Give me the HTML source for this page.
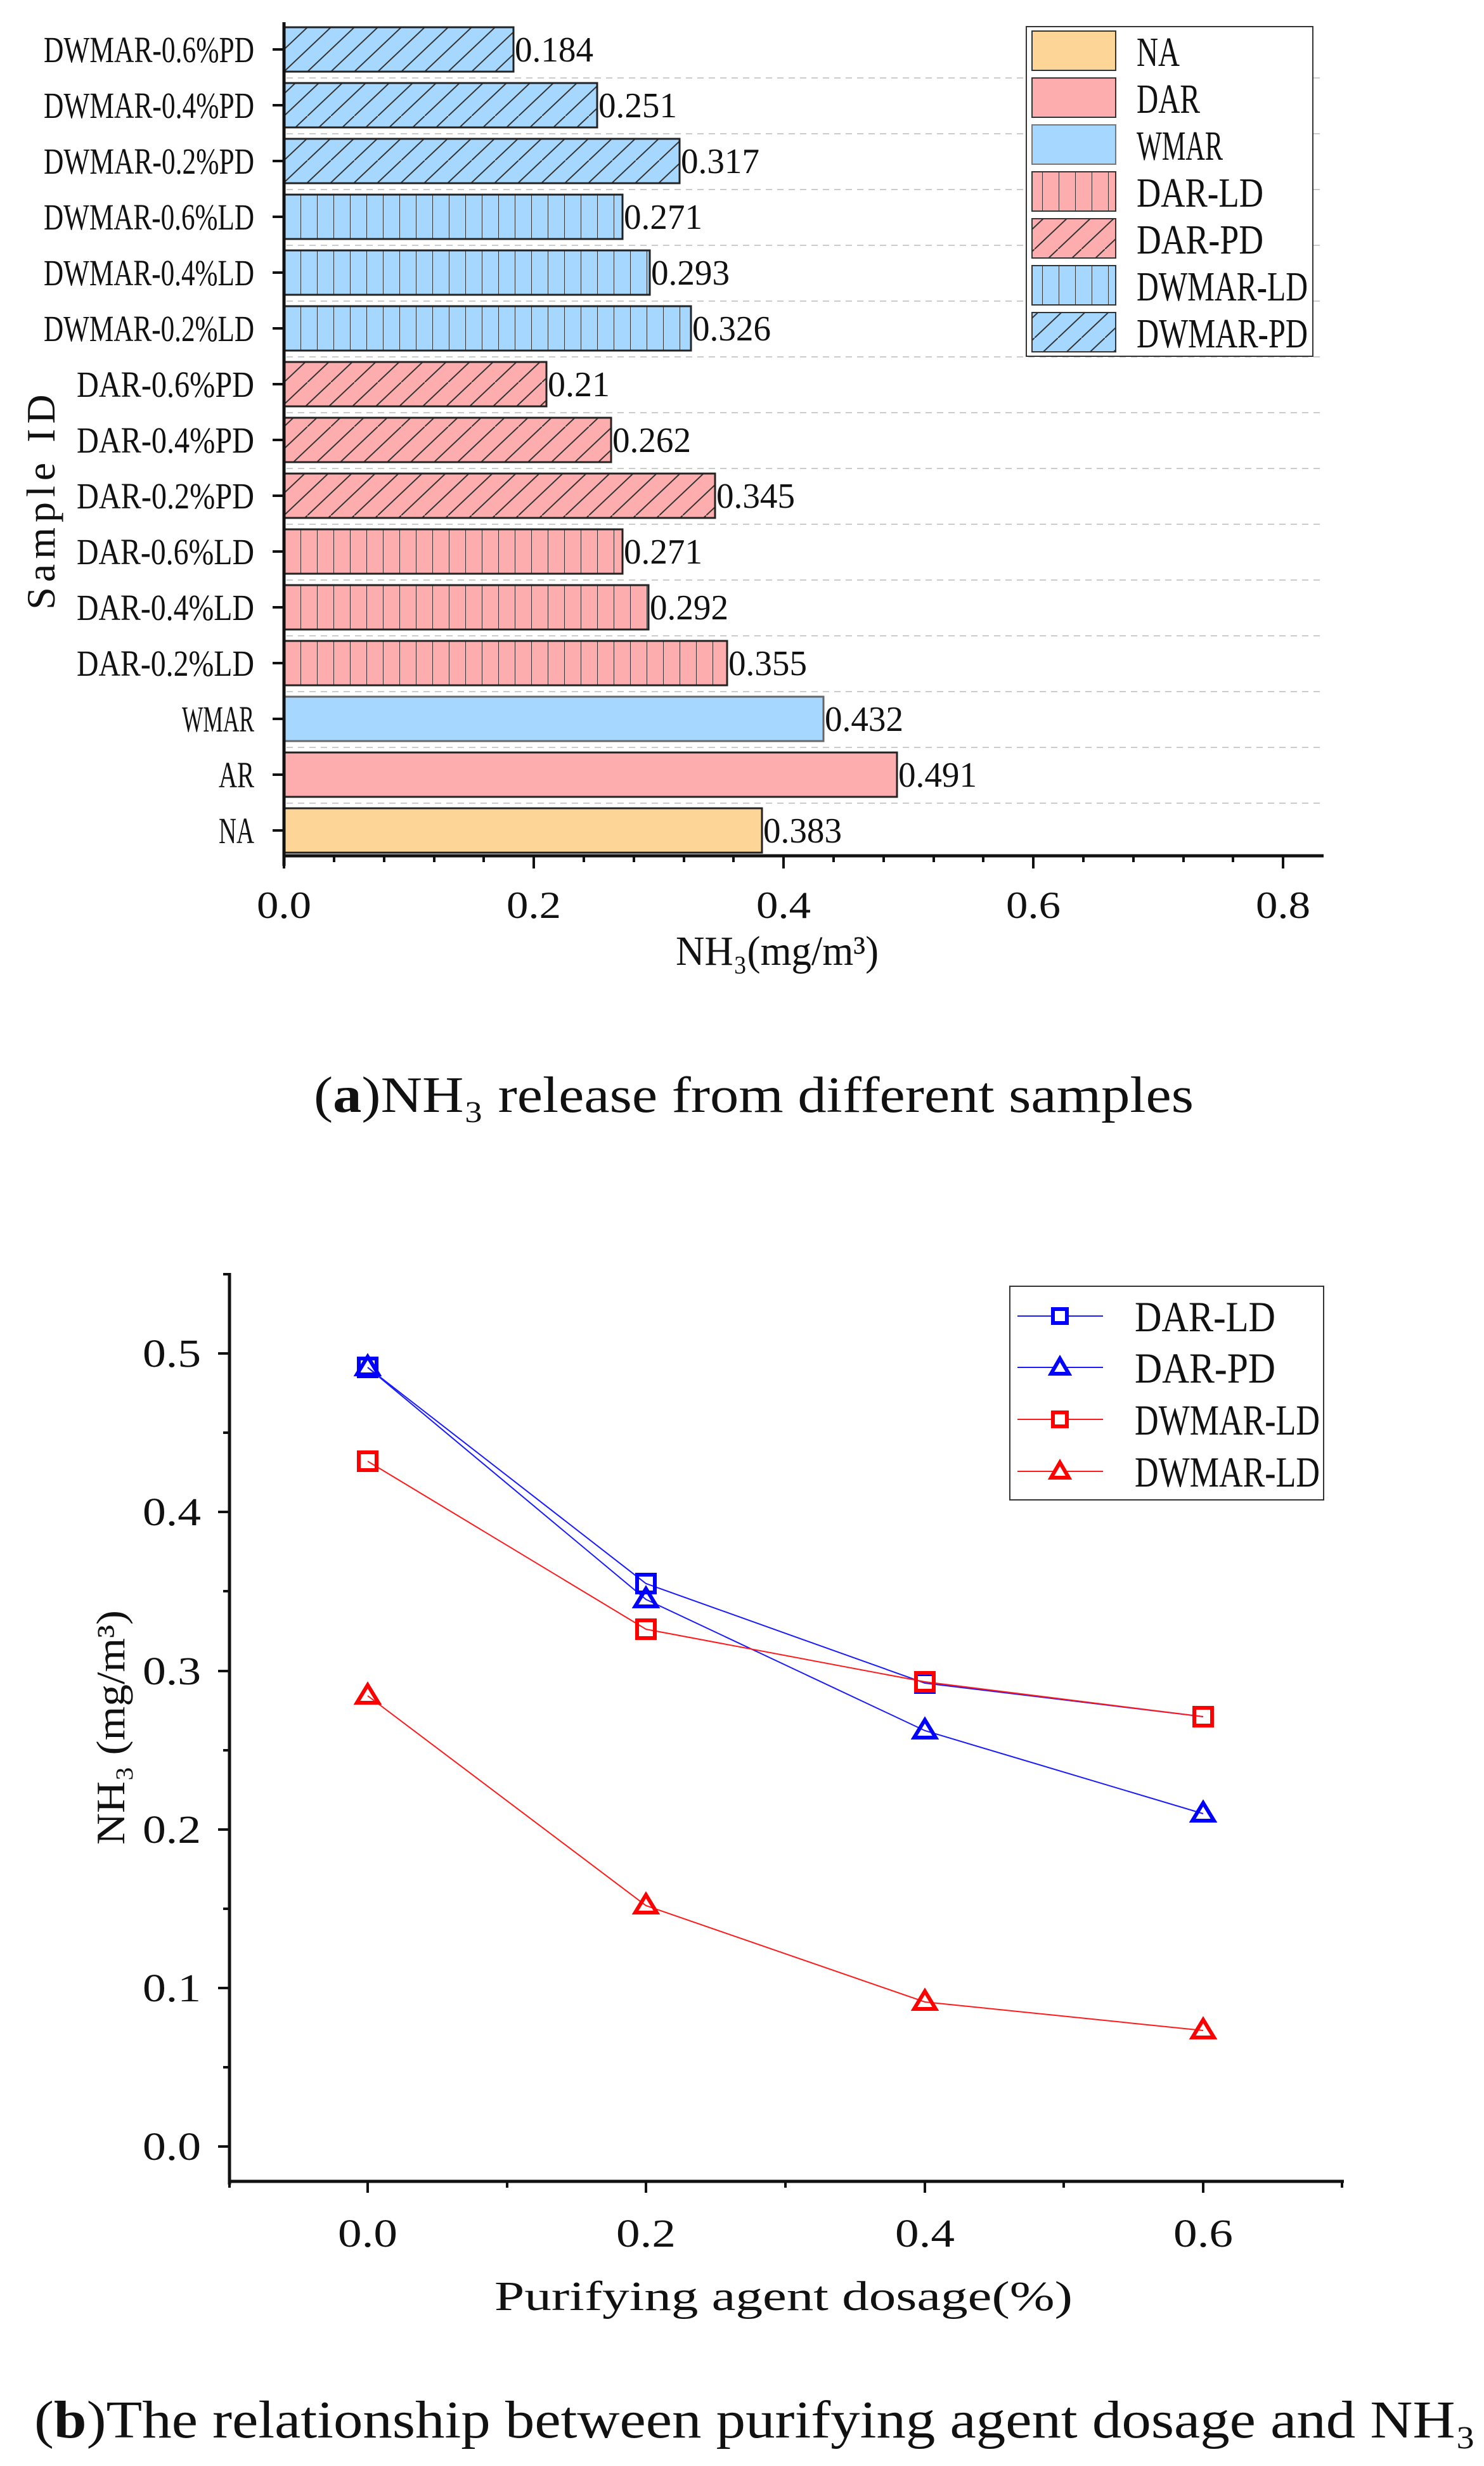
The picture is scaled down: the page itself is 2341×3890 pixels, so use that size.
<!DOCTYPE html>
<html><head><meta charset="utf-8"><style>html,body{margin:0;padding:0;background:#fff}svg{display:block}</style></head>
<body>
<svg width="2341" height="3890" viewBox="0 0 2341 3890" xmlns="http://www.w3.org/2000/svg" font-family="'Liberation Serif','Noto Serif CJK SC',serif">
<defs>
<pattern id="vl" patternUnits="userSpaceOnUse" width="26" height="100" x="448"><line x1="0" y1="0" x2="0" y2="100" stroke="#333" stroke-width="2"/></pattern>
<pattern id="dg" patternUnits="userSpaceOnUse" width="37" height="70" x="448" y="43"><line x1="-37" y1="70" x2="37" y2="0" stroke="#333" stroke-width="2"/><line x1="0" y1="70" x2="74" y2="0" stroke="#333" stroke-width="2"/></pattern>
</defs>
<g stroke="#ccc" stroke-width="2" stroke-dasharray="10,8">
<line x1="452" x2="2086" y1="123" y2="123"/><line x1="452" x2="2086" y1="211" y2="211"/><line x1="452" x2="2086" y1="299" y2="299"/><line x1="452" x2="2086" y1="387" y2="387"/><line x1="452" x2="2086" y1="475" y2="475"/><line x1="452" x2="2086" y1="563" y2="563"/><line x1="452" x2="2086" y1="651" y2="651"/><line x1="452" x2="2086" y1="739" y2="739"/><line x1="452" x2="2086" y1="827" y2="827"/><line x1="452" x2="2086" y1="915" y2="915"/><line x1="452" x2="2086" y1="1003" y2="1003"/><line x1="452" x2="2086" y1="1091" y2="1091"/><line x1="452" x2="2086" y1="1179" y2="1179"/><line x1="452" x2="2086" y1="1267" y2="1267"/>
</g>
<g stroke="#222" stroke-width="3">
<rect x="448" y="1275" width="754" height="70" fill="#fdd596"/>
<rect x="448" y="1187" width="967" height="70" fill="#fdadad"/>
<rect x="448" y="1099" width="851" height="70" fill="#a6d8ff" stroke="#666"/>
<rect x="448" y="1011" width="699" height="70" fill="#fdadad"/><rect x="448" y="1011" width="699" height="70" fill="url(#vl)"/>
<rect x="448" y="923" width="575" height="70" fill="#fdadad"/><rect x="448" y="923" width="575" height="70" fill="url(#vl)"/>
<rect x="448" y="835" width="534" height="70" fill="#fdadad"/><rect x="448" y="835" width="534" height="70" fill="url(#vl)"/>
<rect x="448" y="747" width="680" height="70" fill="#fdadad"/><rect x="448" y="747" width="680" height="70" fill="url(#dg)"/>
<rect x="448" y="659" width="516" height="70" fill="#fdadad"/><rect x="448" y="659" width="516" height="70" fill="url(#dg)"/>
<rect x="448" y="571" width="414" height="70" fill="#fdadad"/><rect x="448" y="571" width="414" height="70" fill="url(#dg)"/>
<rect x="448" y="483" width="642" height="70" fill="#a6d8ff"/><rect x="448" y="483" width="642" height="70" fill="url(#vl)"/>
<rect x="448" y="395" width="577" height="70" fill="#a6d8ff"/><rect x="448" y="395" width="577" height="70" fill="url(#vl)"/>
<rect x="448" y="307" width="534" height="70" fill="#a6d8ff"/><rect x="448" y="307" width="534" height="70" fill="url(#vl)"/>
<rect x="448" y="219" width="624" height="70" fill="#a6d8ff"/><rect x="448" y="219" width="624" height="70" fill="url(#dg)"/>
<rect x="448" y="131" width="494" height="70" fill="#a6d8ff"/><rect x="448" y="131" width="494" height="70" fill="url(#dg)"/>
<rect x="448" y="43" width="362" height="70" fill="#a6d8ff"/><rect x="448" y="43" width="362" height="70" fill="url(#dg)"/>
</g>
<g font-size="56" fill="#111" lengthAdjust="spacingAndGlyphs">
<text x="1204" y="1329" textLength="124" lengthAdjust="spacingAndGlyphs">0.383</text>
<text x="1417" y="1241" textLength="124" lengthAdjust="spacingAndGlyphs">0.491</text>
<text x="1301" y="1153" textLength="124" lengthAdjust="spacingAndGlyphs">0.432</text>
<text x="1149" y="1065" textLength="124" lengthAdjust="spacingAndGlyphs">0.355</text>
<text x="1025" y="977" textLength="124" lengthAdjust="spacingAndGlyphs">0.292</text>
<text x="984" y="889" textLength="124" lengthAdjust="spacingAndGlyphs">0.271</text>
<text x="1130" y="801" textLength="124" lengthAdjust="spacingAndGlyphs">0.345</text>
<text x="966" y="713" textLength="124" lengthAdjust="spacingAndGlyphs">0.262</text>
<text x="864" y="625" textLength="98" lengthAdjust="spacingAndGlyphs">0.21</text>
<text x="1092" y="537" textLength="124" lengthAdjust="spacingAndGlyphs">0.326</text>
<text x="1027" y="449" textLength="124" lengthAdjust="spacingAndGlyphs">0.293</text>
<text x="984" y="361" textLength="124" lengthAdjust="spacingAndGlyphs">0.271</text>
<text x="1074" y="273" textLength="124" lengthAdjust="spacingAndGlyphs">0.317</text>
<text x="944" y="185" textLength="124" lengthAdjust="spacingAndGlyphs">0.251</text>
<text x="812" y="97" textLength="124" lengthAdjust="spacingAndGlyphs">0.184</text>
</g>
<g font-size="58" fill="#111" text-anchor="end">
<text x="401" y="1330" textLength="56" lengthAdjust="spacingAndGlyphs">NA</text><text x="401" y="1242" textLength="56" lengthAdjust="spacingAndGlyphs">AR</text><text x="401" y="1154" textLength="114" lengthAdjust="spacingAndGlyphs">WMAR</text>
<text x="401" y="1066" textLength="280" lengthAdjust="spacingAndGlyphs">DAR-0.2%LD</text>
<text x="401" y="978" textLength="280" lengthAdjust="spacingAndGlyphs">DAR-0.4%LD</text>
<text x="401" y="890" textLength="280" lengthAdjust="spacingAndGlyphs">DAR-0.6%LD</text>
<text x="401" y="802" textLength="280" lengthAdjust="spacingAndGlyphs">DAR-0.2%PD</text>
<text x="401" y="714" textLength="280" lengthAdjust="spacingAndGlyphs">DAR-0.4%PD</text>
<text x="401" y="626" textLength="280" lengthAdjust="spacingAndGlyphs">DAR-0.6%PD</text>
<text x="401" y="538" textLength="332" lengthAdjust="spacingAndGlyphs">DWMAR-0.2%LD</text>
<text x="401" y="450" textLength="332" lengthAdjust="spacingAndGlyphs">DWMAR-0.4%LD</text>
<text x="401" y="362" textLength="332" lengthAdjust="spacingAndGlyphs">DWMAR-0.6%LD</text>
<text x="401" y="274" textLength="332" lengthAdjust="spacingAndGlyphs">DWMAR-0.2%PD</text>
<text x="401" y="186" textLength="332" lengthAdjust="spacingAndGlyphs">DWMAR-0.4%PD</text>
<text x="401" y="98" textLength="332" lengthAdjust="spacingAndGlyphs">DWMAR-0.6%PD</text>
</g>
<g stroke="#111" stroke-width="5" fill="none">
<line x1="448" y1="35" x2="448" y2="1366"/>
<line x1="446" y1="1350" x2="2088" y2="1350"/>
</g>
<g stroke="#111" stroke-width="4">
<line x1="430" x2="448" y1="1310" y2="1310"/><line x1="430" x2="448" y1="1222" y2="1222"/><line x1="430" x2="448" y1="1134" y2="1134"/><line x1="430" x2="448" y1="1046" y2="1046"/><line x1="430" x2="448" y1="958" y2="958"/><line x1="430" x2="448" y1="870" y2="870"/><line x1="430" x2="448" y1="782" y2="782"/><line x1="430" x2="448" y1="694" y2="694"/><line x1="430" x2="448" y1="606" y2="606"/><line x1="430" x2="448" y1="518" y2="518"/><line x1="430" x2="448" y1="430" y2="430"/><line x1="430" x2="448" y1="342" y2="342"/><line x1="430" x2="448" y1="254" y2="254"/><line x1="430" x2="448" y1="166" y2="166"/><line x1="430" x2="448" y1="78" y2="78"/>
<line x1="448" x2="448" y1="1350" y2="1370"/><line x1="842" x2="842" y1="1350" y2="1370"/><line x1="1236" x2="1236" y1="1350" y2="1370"/><line x1="1630" x2="1630" y1="1350" y2="1370"/><line x1="2024" x2="2024" y1="1350" y2="1370"/>
<line x1="527" x2="527" y1="1350" y2="1360"/><line x1="606" x2="606" y1="1350" y2="1360"/><line x1="685" x2="685" y1="1350" y2="1360"/><line x1="763" x2="763" y1="1350" y2="1360"/><line x1="921" x2="921" y1="1350" y2="1360"/><line x1="1000" x2="1000" y1="1350" y2="1360"/><line x1="1079" x2="1079" y1="1350" y2="1360"/><line x1="1157" x2="1157" y1="1350" y2="1360"/><line x1="1315" x2="1315" y1="1350" y2="1360"/><line x1="1394" x2="1394" y1="1350" y2="1360"/><line x1="1473" x2="1473" y1="1350" y2="1360"/><line x1="1551" x2="1551" y1="1350" y2="1360"/><line x1="1709" x2="1709" y1="1350" y2="1360"/><line x1="1788" x2="1788" y1="1350" y2="1360"/><line x1="1867" x2="1867" y1="1350" y2="1360"/><line x1="1945" x2="1945" y1="1350" y2="1360"/>
</g>
<g font-size="60" fill="#111" text-anchor="middle">
<text x="448" y="1448" textLength="86" lengthAdjust="spacingAndGlyphs">0.0</text><text x="842" y="1448" textLength="86" lengthAdjust="spacingAndGlyphs">0.2</text><text x="1236" y="1448" textLength="86" lengthAdjust="spacingAndGlyphs">0.4</text><text x="1630" y="1448" textLength="86" lengthAdjust="spacingAndGlyphs">0.6</text><text x="2024" y="1448" textLength="86" lengthAdjust="spacingAndGlyphs">0.8</text>
<text x="1226" y="1522" font-size="66" textLength="320" lengthAdjust="spacingAndGlyphs">NH₃(mg/m³)</text>
<text transform="translate(86,788) rotate(-90)" font-size="64" letter-spacing="8">Sample ID</text>
</g>
<rect x="1619" y="42" width="452" height="520" fill="#fff" stroke="#333" stroke-width="2"/>
<g stroke="#333" stroke-width="2">
<rect x="1628" y="49" width="132" height="62" fill="#fdd596"/>
<rect x="1628" y="123" width="132" height="62" fill="#fdadad"/>
<rect x="1628" y="197" width="132" height="62" fill="#a6d8ff" stroke="#777"/>
<rect x="1628" y="271" width="132" height="62" fill="#fdadad"/><rect x="1628" y="271" width="132" height="62" fill="url(#vl)"/>
<rect x="1628" y="345" width="132" height="62" fill="#fdadad"/><rect x="1628" y="345" width="132" height="62" fill="url(#dg)"/>
<rect x="1628" y="419" width="132" height="62" fill="#a6d8ff"/><rect x="1628" y="419" width="132" height="62" fill="url(#vl)"/>
<rect x="1628" y="493" width="132" height="62" fill="#a6d8ff"/><rect x="1628" y="493" width="132" height="62" fill="url(#dg)"/>
</g>
<g font-size="66" fill="#111">
<text x="1793" y="104" textLength="68" lengthAdjust="spacingAndGlyphs">NA</text><text x="1793" y="178" textLength="100" lengthAdjust="spacingAndGlyphs">DAR</text><text x="1793" y="252" textLength="136" lengthAdjust="spacingAndGlyphs">WMAR</text>
<text x="1793" y="326" textLength="200" lengthAdjust="spacingAndGlyphs">DAR-LD</text>
<text x="1793" y="400" textLength="200" lengthAdjust="spacingAndGlyphs">DAR-PD</text>
<text x="1793" y="474" textLength="270" lengthAdjust="spacingAndGlyphs">DWMAR-LD</text>
<text x="1793" y="548" textLength="270" lengthAdjust="spacingAndGlyphs">DWMAR-PD</text>
</g>
<text x="495" y="1754" font-size="80" fill="#111" textLength="1388" lengthAdjust="spacingAndGlyphs">(<tspan font-weight="bold">a</tspan>)NH₃ release from different samples</text>

<!-- Chart b -->
<g stroke="#111" stroke-width="5" fill="none">
<line x1="362" y1="2008" x2="362" y2="3446"/>
<line x1="360" y1="3441" x2="2120" y2="3441"/>
</g>
<g stroke="#111" stroke-width="4">
<line x1="344" x2="362" y1="2135" y2="2135"/><line x1="344" x2="362" y1="2385" y2="2385"/><line x1="344" x2="362" y1="2636" y2="2636"/><line x1="344" x2="362" y1="2886" y2="2886"/><line x1="344" x2="362" y1="3136" y2="3136"/><line x1="344" x2="362" y1="3386" y2="3386"/>
<line x1="352" x2="362" y1="2260" y2="2260"/><line x1="352" x2="362" y1="2510" y2="2510"/><line x1="352" x2="362" y1="2761" y2="2761"/><line x1="352" x2="362" y1="3011" y2="3011"/><line x1="352" x2="362" y1="3261" y2="3261"/><line x1="352" x2="362" y1="2010" y2="2010"/>
<line x1="580" x2="580" y1="3441" y2="3459"/><line x1="1019" x2="1019" y1="3441" y2="3459"/><line x1="1459" x2="1459" y1="3441" y2="3459"/><line x1="1898" x2="1898" y1="3441" y2="3459"/>
<line x1="362" x2="362" y1="3441" y2="3451"/><line x1="800" x2="800" y1="3441" y2="3451"/><line x1="1239" x2="1239" y1="3441" y2="3451"/><line x1="1678" x2="1678" y1="3441" y2="3451"/><line x1="2117" x2="2117" y1="3441" y2="3451"/>
</g>
<g font-size="62" fill="#111" text-anchor="end">
<text x="317" y="2156" textLength="92" lengthAdjust="spacingAndGlyphs">0.5</text><text x="317" y="2406" textLength="92" lengthAdjust="spacingAndGlyphs">0.4</text><text x="317" y="2657" textLength="92" lengthAdjust="spacingAndGlyphs">0.3</text><text x="317" y="2907" textLength="92" lengthAdjust="spacingAndGlyphs">0.2</text><text x="317" y="3157" textLength="92" lengthAdjust="spacingAndGlyphs">0.1</text><text x="317" y="3407" textLength="92" lengthAdjust="spacingAndGlyphs">0.0</text>
</g>
<g font-size="62" fill="#111" text-anchor="middle">
<text x="580" y="3544" textLength="94" lengthAdjust="spacingAndGlyphs">0.0</text><text x="1019" y="3544" textLength="94" lengthAdjust="spacingAndGlyphs">0.2</text><text x="1459" y="3544" textLength="94" lengthAdjust="spacingAndGlyphs">0.4</text><text x="1898" y="3544" textLength="94" lengthAdjust="spacingAndGlyphs">0.6</text>
<text x="1236" y="3644" font-size="66" textLength="912" lengthAdjust="spacingAndGlyphs">Purifying agent dosage(%)</text>
<text transform="translate(196,2725) rotate(-90)" font-size="64" textLength="370" lengthAdjust="spacingAndGlyphs">NH₃ (mg/m³)</text>
</g>
<g fill="none" stroke-width="2">
<polyline stroke="#1a1aff" points="580,2157 1019,2498 1459,2655 1898,2708"/>
<polyline stroke="#1a1aff" points="580,2157 1019,2523 1459,2730 1898,2861"/>
<polyline stroke="#ff1a1a" points="580,2305 1019,2570 1459,2653 1898,2708"/>
<polyline stroke="#ff1a1a" points="580,2675 1019,3006 1459,3158 1898,3203"/>
</g>
<g fill="none" stroke-width="6">
<g stroke="#0000ff">
<rect x="566" y="2143" width="28" height="28"/><rect x="1005" y="2484" width="28" height="28"/><rect x="1445" y="2641" width="28" height="28"/>
<path d="M580,2140 L597,2168 L563,2168 Z M1019,2506 L1036,2534 L1002,2534 Z M1459,2713 L1476,2741 L1442,2741 Z M1898,2844 L1915,2872 L1881,2872 Z"/>
</g>
<g stroke="#ff0000">
<rect x="566" y="2291" width="28" height="28"/><rect x="1005" y="2556" width="28" height="28"/><rect x="1445" y="2639" width="28" height="28"/><rect x="1884" y="2694" width="28" height="28"/>
<path d="M580,2658 L597,2686 L563,2686 Z M1019,2989 L1036,3017 L1002,3017 Z M1459,3141 L1476,3169 L1442,3169 Z M1898,3186 L1915,3214 L1881,3214 Z"/>
</g>
</g>
<rect x="1593" y="2029" width="495" height="337" fill="#fff" stroke="#333" stroke-width="2"/>
<g stroke-width="2">
<line x1="1605" x2="1740" y1="2076" y2="2076" stroke="#1a1aff"/>
<line x1="1605" x2="1740" y1="2157" y2="2157" stroke="#1a1aff"/>
<line x1="1605" x2="1740" y1="2239" y2="2239" stroke="#ff1a1a"/>
<line x1="1605" x2="1740" y1="2321" y2="2321" stroke="#ff1a1a"/>
</g>
<g fill="#fff" stroke-width="6">
<rect x="1661" y="2065" width="22" height="22" stroke="#0000ff"/>
<path d="M1672,2143 L1686,2167 L1658,2167 Z" stroke="#0000ff"/>
<rect x="1661" y="2228" width="22" height="22" stroke="#ff0000"/>
<path d="M1672,2307 L1686,2331 L1658,2331 Z" stroke="#ff0000"/>
</g>
<g font-size="68" fill="#111">
<text x="1790" y="2100" textLength="222" lengthAdjust="spacingAndGlyphs">DAR-LD</text>
<text x="1790" y="2181" textLength="222" lengthAdjust="spacingAndGlyphs">DAR-PD</text>
<text x="1790" y="2263" textLength="292" lengthAdjust="spacingAndGlyphs">DWMAR-LD</text>
<text x="1790" y="2345" textLength="292" lengthAdjust="spacingAndGlyphs">DWMAR-LD</text>
</g>
<text x="54" y="3845" font-size="84" fill="#111" textLength="2274" lengthAdjust="spacingAndGlyphs">(<tspan font-weight="bold">b</tspan>)The relationship between purifying agent dosage and NH₃</text>
</svg>
</body></html>
